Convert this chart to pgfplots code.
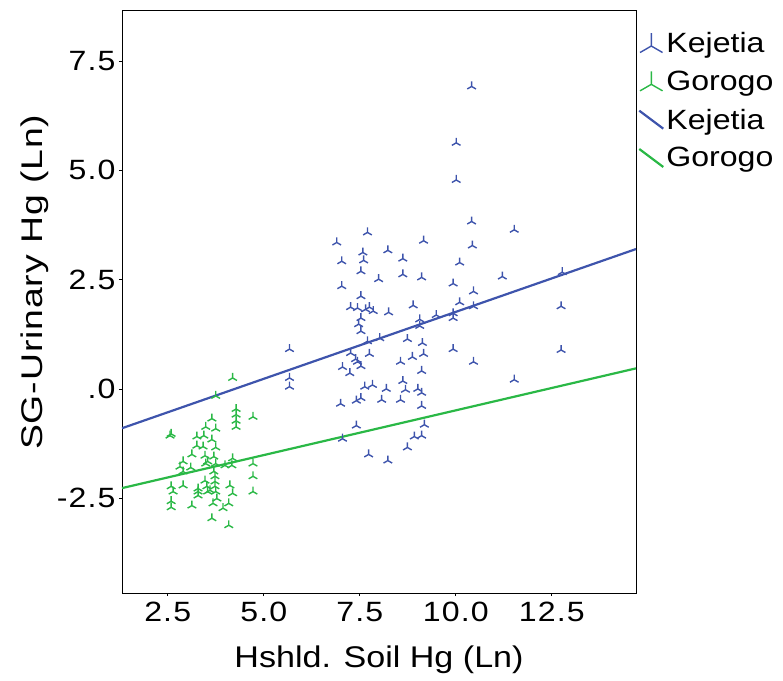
\documentclass[border=0pt]{standalone}
\usepackage{fontspec}
\setmainfont{Liberation Sans}[FakeStretch=1.15]
\newfontfamily\tickfont{Liberation Sans}[FakeStretch=1.15, LetterSpace=4]
\newfontfamily\ylabfont{Liberation Sans}[FakeStretch=1.25, LetterSpace=3]
\newfontfamily\xlabfont{Liberation Sans}[FakeStretch=1.14]
\usepackage{pgfplots}
\usepackage{pgfplotstable}
\pgfplotsset{compat=1.18}
\definecolor{kblue}{RGB}{62,84,172}
\definecolor{ggreen}{RGB}{42,184,70}
\pgfplotsset{
  diagline/.style={legend image code/.code={\draw[##1] (0bp,9bp) -- (24bp,-9bp);}},
  bigmark/.style={legend image code/.code={\draw[##1, mark size=13bp] plot coordinates {(12bp,-3bp)};}},
}
\pgfplotstableread{
x y
5.67 0.91
5.67 0.25
5.67 0.05
6.90 3.35
7.03 2.92
7.03 2.35
7.70 3.58
7.58 3.12
7.60 2.94
7.53 2.69
7.53 2.12
7.26 1.87
7.44 1.85
7.65 1.82
7.75 1.87
7.85 1.78
7.53 1.62
7.47 1.48
7.53 1.32
8.23 3.17
8.62 2.98
7.99 2.51
8.62 2.62
9.11 2.55
9.16 3.39
8.25 1.75
8.89 1.91
9.06 1.59
9.06 1.44
9.49 1.69
9.93 2.41
9.93 1.73
9.93 1.62
7.70 1.09
8.02 1.16
8.74 1.14
9.13 1.05
9.93 0.91
7.26 0.82
7.39 0.68
7.44 0.62
7.75 0.80
7.53 0.52
7.05 0.50
7.24 0.36
8.56 0.62
8.87 0.73
9.16 0.80
9.11 0.41
7.63 0.05
7.83 0.09
8.19 0.00
8.62 0.18
8.69 -0.02
9.01 0.00
9.11 -0.09
7.00 -0.34
7.41 -0.27
7.53 -0.21
8.07 -0.25
8.56 -0.25
9.11 -0.39
9.18 -0.82
7.41 -0.84
7.05 -1.14
8.92 -1.09
9.11 -1.07
8.74 -1.34
7.73 -1.50
8.23 -1.64
10.41 6.92
10.01 5.63
10.01 4.78
10.41 3.83
11.52 3.64
10.43 3.28
10.10 2.89
11.21 2.57
10.46 2.23
12.77 2.67
10.10 1.98
10.46 1.89
12.74 1.89
12.74 0.89
10.46 0.62
11.52 0.21
}\kejetia
\pgfplotstableread{
x y
4.19 0.25
3.75 -0.16
2.59 -1.03
2.56 -1.07
3.65 -0.68
4.28 -0.46
4.28 -0.59
4.28 -0.73
4.28 -0.87
4.72 -0.64
3.49 -0.87
3.75 -0.91
3.26 -1.09
3.44 -1.07
3.65 -1.16
3.26 -1.30
3.42 -1.32
3.75 -1.34
3.13 -1.50
3.47 -1.53
3.70 -1.55
3.54 -1.66
2.90 -1.66
2.82 -1.78
3.10 -1.80
2.90 -1.89
3.49 -1.71
3.75 -1.71
3.99 -1.75
4.19 -1.59
4.17 -1.75
4.72 -1.71
3.70 -1.89
3.73 -2.00
3.73 -2.12
3.73 -2.23
3.60 -2.32
3.47 -2.10
3.52 -2.23
3.29 -2.35
4.12 -2.21
4.19 -2.39
4.72 -2.00
4.72 -2.35
2.59 -2.23
2.64 -2.35
2.90 -2.21
3.29 -2.28
3.29 -2.44
2.59 -2.57
2.59 -2.71
3.13 -2.67
3.68 -2.62
3.78 -2.51
3.94 -2.73
4.09 -2.62
3.65 -2.96
4.09 -3.12
3.75 -2.35
3.54 -2.35
}\gorogo
\begin{document}
\begin{tikzpicture}
\begin{axis}[
  scale only axis, width=514bp, height=583bp,
  xmin=1.31, xmax=14.69, ymin=-4.67, ymax=8.67,
  xtick={2.5,5,7.5,10,12.5}, xticklabels={2.5,5.0,7.5,10.0,12.5},
  ytick={-2.5,0,2.5,5,7.5}, yticklabels={-2.5,.0,2.5,5.0,7.5},
  tick pos=left, tick align=outside, major tick length=3bp,
  tick style={black, line width=0.8bp},
  axis line style={line width=0.8bp},
  tick label style={font=\tickfont\fontsize{28}{32}\selectfont},
  xticklabel style={yshift=-3bp},
  xlabel={Hshld. Soil Hg (Ln)}, ylabel={SG-Urinary Hg (Ln)},
  xlabel style={font=\xlabfont\fontsize{30}{34}\selectfont, at={(axis description cs:0.5,-0.1286)}, anchor=base},
  ylabel style={font=\ylabfont\fontsize{30}{34}\selectfont, at={(axis description cs:-0.1556,0.533)}, anchor=base},
  legend style={at={(1.0,1.0)}, anchor=north west, yshift=-18bp, draw=none, fill=none,
    font=\fontsize{28}{32}\selectfont, row sep=13bp, inner xsep=2bp},
  legend cell align=left,
  clip=true,
]
\addplot[only marks, mark=Mercedes star, mark size=5bp, kblue, line width=1.4bp, bigmark] table[x=x,y=y]{\kejetia};
\addlegendentry{Kejetia}
\addplot[only marks, mark=Mercedes star, mark size=5bp, ggreen, line width=1.4bp, bigmark] table[x=x,y=y]{\gorogo};
\addlegendentry{Gorogo}
\addplot[kblue, line width=2.2bp, diagline] coordinates {(1.31,-0.90) (14.69,3.20)};
\addlegendentry{Kejetia}
\addplot[ggreen, line width=2.2bp, diagline] coordinates {(1.31,-2.27) (14.69,0.47)};
\addlegendentry{Gorogo}
\end{axis}
\pgfresetboundingbox
\path (current axis.south west) ++(-122bp,-88bp) rectangle ++(783bp,681bp);
\end{tikzpicture}
\end{document}
